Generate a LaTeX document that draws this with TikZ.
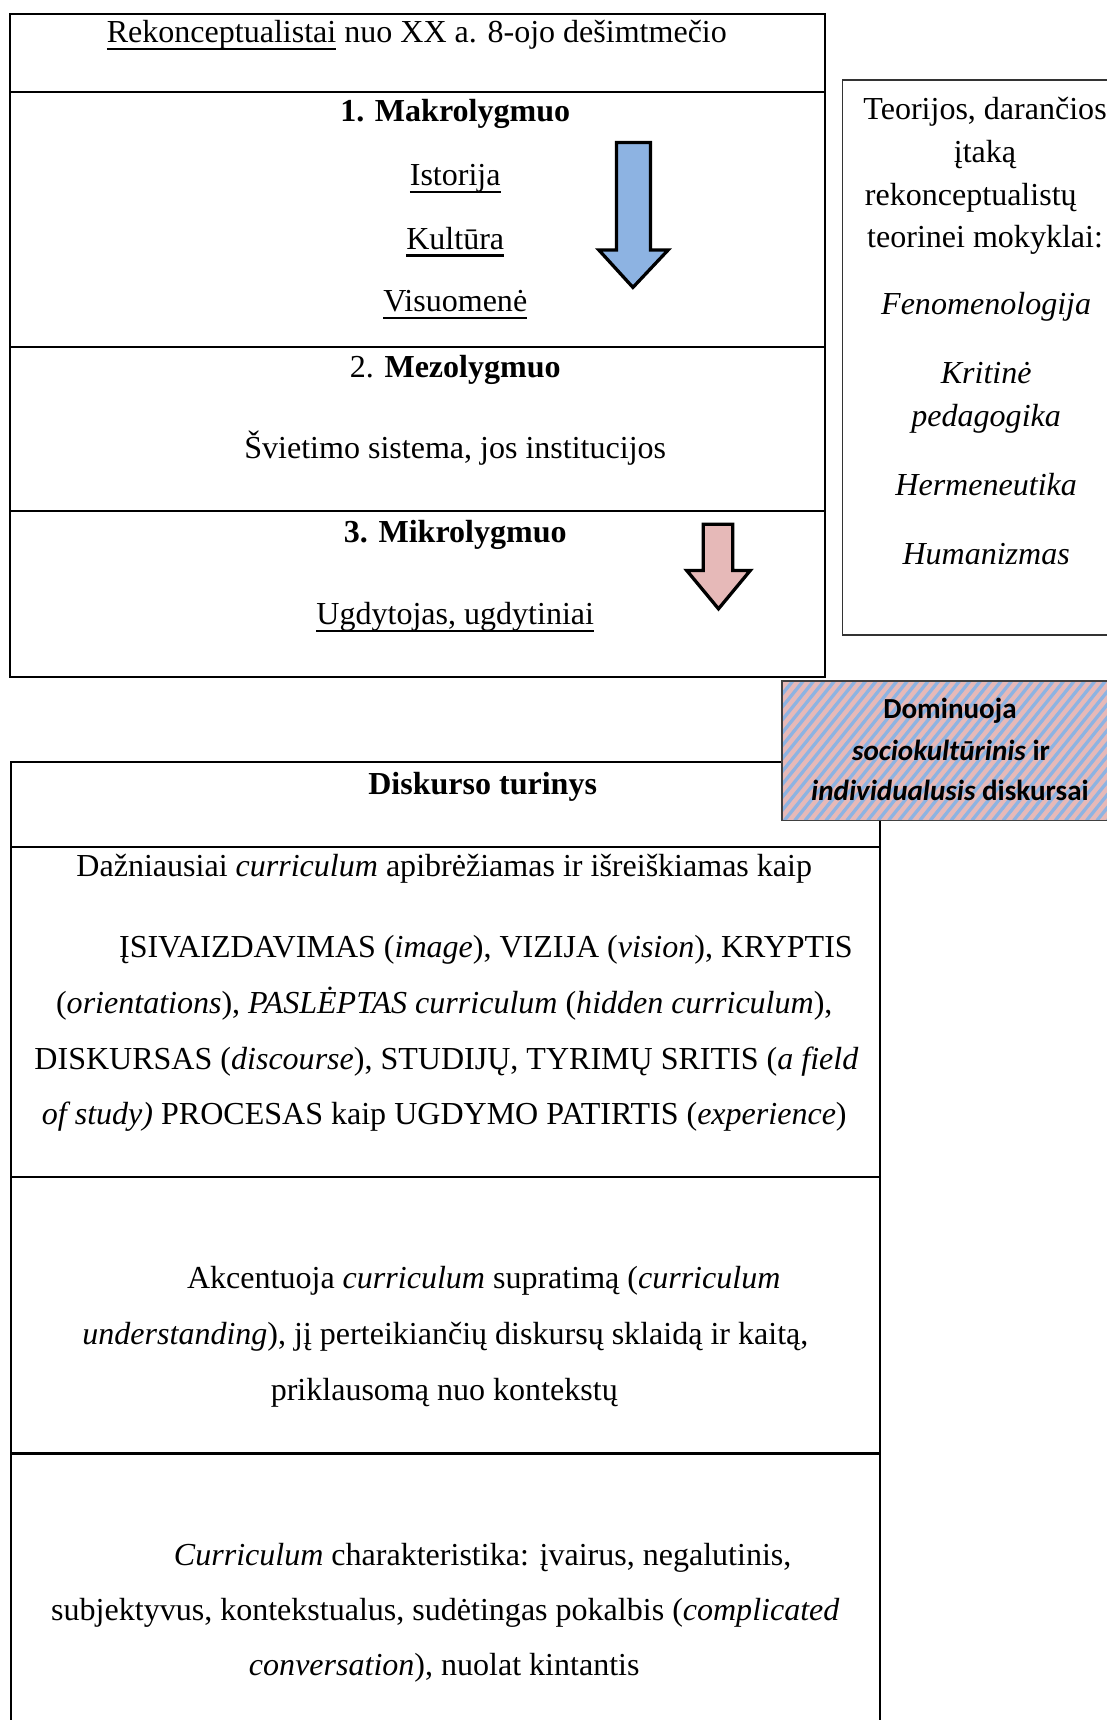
\documentclass[tikz,border=0pt]{standalone}
\usepackage{fontspec}
\setmainfont{Liberation Serif}
\newfontfamily\calib{Carlito}
\newcommand\fs{\fontsize{29.2}{34}\selectfont}
\newcommand\cfs{\calib\fontsize{26.5}{30}\selectfont}
\newcommand\myul[1]{\setbox0\hbox{#1}\rlap{\rule[-0.24em]{\wd0}{0.07em}}\copy0\relax}
\definecolor{arrblue}{HTML}{8DB3E2}
\definecolor{arrpink}{HTML}{E6B9B8}
\begin{document}
\begin{tikzpicture}[x=1pt,y=-1pt,
  bx/.style={line width=2pt,draw=black},
  thinbx/.style={line width=1.6pt,draw=black!80},
  t/.style={inner sep=0pt,font=\fs,anchor=base},
  ct/.style={inner sep=0pt,font=\cfs\bfseries,anchor=base},
  arr/.style={line width=3pt,draw=black,line join=miter}]
\useasboundingbox (0,0) rectangle (1009,1568);
\clip (0,0) rectangle (1009,1568);
% top box
\draw[bx] (9,13) rectangle (752,617);
\draw[bx] (9,84) -- (752,84);
\draw[bx] (9,316) -- (752,316);
\draw[bx] (9,466) -- (752,466);
\node[t] (title) at (380,39) {\myul{Rekonceptualistai} nuo XX a. 8-ojo dešimtmečio};
\node[t] (makro) at (415,111) {\textbf{1. Makrolygmuo}};
\node[t] (ist) at (415,169) {\myul{Istorija}};
\node[t] (kult) at (415,227) {\myul{Kultūra}};
\node[t] (visu) at (415,284) {\myul{Visuomenė}};
\node[t] (mezo) at (415,344) {2. \textbf{Mezolygmuo}};
\node[t] (svi) at (415,418) {Švietimo sistema, jos institucijos};
\node[t] (mikro) at (415,495) {\textbf{3. Mikrolygmuo}};
\node[t] (ugd) at (415,569) {\myul{Ugdytojas, ugdytiniai}};
% arrows
\filldraw[arr,fill=arrblue] (562,130) -- (593,130) -- (593,228) -- (609,228) -- (577,262) -- (546,228) -- (562,228) -- cycle;
\filldraw[arr,fill=arrpink] (641,478) -- (668,478) -- (668,520) -- (684,520) -- (655,555) -- (626,520) -- (641,520) -- cycle;
% right box
\draw[thinbx] (1020,73) -- (768,73) -- (768,579) -- (1020,579);
\node[t] (r1) at (898,109) {Teorijos, darančios};
\node[t] (r2) at (898,148) {įtaką};
\node[t] (r3) at (885,187) {rekonceptualistų};
\node[t] (r4) at (898,226) {teorinei mokyklai:};
\node[t] (r5) at (899,287) {\textit{Fenomenologija}};
\node[t] (r6) at (899,350) {\textit{Kritinė}};
\node[t] (r7) at (899,389) {\textit{pedagogika}};
\node[t] (r8) at (899,452) {\textit{Hermeneutika}};
\node[t] (r9) at (899,515) {\textit{Humanizmas}};
% bottom box
\draw[bx] (10,1580) -- (10,695) -- (802,695) -- (802,1580);
\draw[bx] (10,772) -- (802,772);
\draw[bx] (10,1073) -- (802,1073);
\draw[bx] (10,1325) -- (802,1325);
\node[t] (disk) at (440,724) {\textbf{Diskurso turinys}};
\node[t] (daz) at (405,799) {Dažniausiai \textit{curriculum} apibrėžiamas ir išreiškiamas kaip};
\node[t] (p1) at (443,873) {ĮSIVAIZDAVIMAS (\textit{image}), VIZIJA (\textit{vision}), KRYPTIS};
\node[t] (p2) at (405,924) {(\textit{orientations}), \textit{PASLĖPTAS curriculum} (\textit{hidden curriculum}),};
\node[t] (p3) at (407,975) {DISKURSAS (\textit{discourse}), STUDIJŲ, TYRIMŲ SRITIS (\textit{a field}};
\node[t] (p4) at (405,1025) {\textit{of study)} PROCESAS kaip UGDYMO PATIRTIS (\textit{experience})};
\node[t] (a1) at (441,1175) {Akcentuoja \textit{curriculum} supratimą (\textit{curriculum}};
\node[t] (a2) at (406,1226) {\textit{understanding}), jį perteikiančių diskursų sklaidą ir kaitą,};
\node[t] (a3) at (405,1277) {priklausomą nuo kontekstų};
\node[t] (c1) at (440,1427) {\textit{Curriculum} charakteristika: įvairus, negalutinis,};
\node[t] (c2) at (406,1477) {subjektyvus, kontekstualus, sudėtingas pokalbis (\textit{complicated}};
\node[t] (c3) at (405,1527) {\textit{conversation}), nuolat kintantis};
% hatched box
\fill[arrpink] (713,621) rectangle (1020,748);
\begin{scope}
\clip (713,621) rectangle (1020,748);
\foreach \i in {0,...,45} {
  \draw[arrblue,line width=3pt] ({620+\i*9.5},748) -- ({620+\i*9.5+105},618);
}
\end{scope}
\draw[line width=1.5pt,draw=black!75] (1020,621) -- (713,621) -- (713,748) -- (1020,748);
\node[ct] (d1) at (866,655) {Dominuoja};
\node[ct] (d2) at (867,693) {\textit{sociokultūrinis} ir};
\node[ct] (d3) at (866,730) {\textit{individualusis} diskursai};
\end{tikzpicture}
\end{document}
